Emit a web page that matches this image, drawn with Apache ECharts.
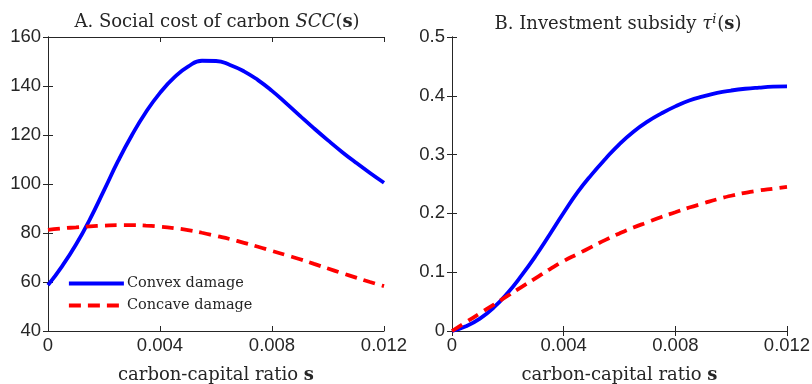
<!DOCTYPE html>
<html>
<head>
<meta charset="utf-8">
<script src="https://cdn.jsdelivr.net/npm/echarts@6/dist/echarts.min.js"></script>
<style>
  html, body { margin: 0; padding: 0; background: #fff; }
  #chart { width: 812px; height: 384px; }
</style>
</head>
<body>
<div id="chart"></div>
<script>
// carbon-capital ratio grid
const carbonRatio = [0, 0.0005, 0.001, 0.0015, 0.002, 0.0025, 0.003, 0.0035, 0.004, 0.0045,
  0.005, 0.0055, 0.006, 0.0065, 0.007, 0.0075, 0.008, 0.0085, 0.009, 0.0095,
  0.010, 0.0105, 0.011, 0.0115, 0.012];

// Panel A: social cost of carbon
const sccConvex = [58.7, 66.4, 75.3, 85.7, 97.4, 109.3, 120.0, 129.4, 137.2, 143.4,
  147.9, 150.3, 150.2, 148.6, 146.0, 142.4, 138.0, 133.0, 127.8, 122.7,
  117.8, 113.1, 108.7, 104.5, 100.5];
const sccConcave = [81.3, 81.9, 82.3, 82.7, 83, 83.2, 83.2, 83, 82.6, 82,
  81.2, 80.1, 78.8, 77.5, 76, 74.4, 72.7, 71, 69.3, 67.4,
  65.5, 63.6, 61.8, 60, 58.3];

// Panel B: investment subsidy
const subsidyConvex = [0, 0.008, 0.021, 0.04, 0.065, 0.095, 0.128, 0.164, 0.201, 0.236,
  0.266, 0.293, 0.318, 0.339, 0.356, 0.37, 0.382, 0.392, 0.399, 0.405,
  0.409, 0.412, 0.414, 0.4155, 0.416];
const subsidyConcave = [0, 0.015, 0.03, 0.045, 0.06, 0.075, 0.09, 0.105, 0.119, 0.131,
  0.143, 0.155, 0.166, 0.176, 0.185, 0.194, 0.202, 0.21, 0.217, 0.224,
  0.23, 0.235, 0.239, 0.242, 0.245];

// axis ticks
const xTicks = { min: 0, max: 0.012, interval: 0.004 };
const sccTicks = { min: 40, max: 160, interval: 20 };
const subsidyTicks = { min: 0, max: 0.5, interval: 0.1 };

const seriesNames = ['Convex damage', 'Concave damage'];

const pairs = (xs, ys) => xs.map((x, i) => [x, ys[i]]);

const ink = '#262626';
const serif = '"DejaVu Serif", "Liberation Serif", serif';
const sans = '"Liberation Sans", Arial, sans-serif';
const headSize = 18;
const legendSize = 14.5;

function mainX(grid) {
  return {
    type: 'value', gridIndex: grid, position: 'bottom',
    min: xTicks.min, max: xTicks.max, interval: xTicks.interval,
    axisLine: { show: true, lineStyle: { color: ink, width: 1 } },
    axisTick: { show: true, inside: true, length: 5, lineStyle: { color: ink } },
    axisLabel: { color: ink, fontFamily: sans, fontSize: 18.5, margin: 5 },
    splitLine: { show: false },
    name: '{n|carbon-capital ratio }{b|s}',
    nameLocation: 'middle', nameGap: 35,
    nameTextStyle: {
      rich: {
        n: { fontFamily: serif, fontSize: headSize, color: ink },
        b: { fontFamily: serif, fontSize: headSize, color: ink, fontWeight: 'bold' }
      }
    }
  };
}
function boxX(grid) {
  return {
    type: 'value', gridIndex: grid, position: 'top',
    min: xTicks.min, max: xTicks.max, interval: xTicks.interval,
    axisLine: { show: true, lineStyle: { color: ink, width: 1 } },
    axisTick: { show: true, inside: true, length: 5, lineStyle: { color: ink } },
    axisLabel: { show: false }, splitLine: { show: false }
  };
}
function mainY(grid, t) {
  return {
    type: 'value', gridIndex: grid, position: 'left',
    min: t.min, max: t.max, interval: t.interval,
    axisLine: { show: true, lineStyle: { color: ink, width: 1 } },
    axisTick: { show: true, inside: true, length: 5, lineStyle: { color: ink } },
    axisLabel: { color: ink, fontFamily: sans, fontSize: 18.5, margin: 7 },
    splitLine: { show: false }
  };
}
function boxY(grid, t) {
  return {
    type: 'value', gridIndex: grid, position: 'right',
    min: t.min, max: t.max, interval: t.interval,
    axisLine: { show: true, lineStyle: { color: ink, width: 1 } },
    axisTick: { show: true, inside: true, length: 5, lineStyle: { color: ink } },
    axisLabel: { show: false }, splitLine: { show: false }
  };
}

function curve(name, xAxisIndex, yAxisIndex, data, color, dashed) {
  return {
    name, type: 'line', xAxisIndex, yAxisIndex,
    data, showSymbol: false, symbol: 'none', smooth: 0.5,
    itemStyle: { color },
    lineStyle: { color, width: 3.8, type: dashed ? [12, 7] : 'solid', cap: 'butt' },
    animation: false
  };
}

const titleRich = {
  n: { fontFamily: serif, fontSize: headSize, color: ink, fontWeight: 'normal' },
  i: { fontFamily: serif, fontSize: headSize, color: ink, fontWeight: 'normal', fontStyle: 'italic' },
  b: { fontFamily: serif, fontSize: headSize, color: ink, fontWeight: 'bold' },
  sup: { fontFamily: serif, fontSize: 13, color: ink, fontWeight: 'normal', fontStyle: 'italic', padding: [0, 1, 10, 0] }
};

const chart = echarts.init(document.getElementById('chart'), null, { renderer: 'canvas' });
chart.setOption({
  backgroundColor: '#fff',
  animation: false,
  title: [
    { text: '{n|A. Social cost of carbon }{i|SCC}{n|(}{b|s}{n|)}', left: 212, top: 8,
      textAlign: 'center', textStyle: { fontWeight: 'normal', rich: titleRich } },
    { text: '{n|B. Investment subsidy }{i|τ}{sup|i}{n|(}{b|s}{n|)}', left: 613, top: 8,
      textAlign: 'center', textStyle: { fontWeight: 'normal', rich: titleRich } }
  ],
  grid: [
    { left: 48, right: 428, top: 37, bottom: 53, outerBoundsMode: 'none', containLabel: false },
    { left: 452, right: 25, top: 37, bottom: 53, outerBoundsMode: 'none', containLabel: false }
  ],
  legend: {
    data: seriesNames, left: 67, top: 276, orient: 'vertical',
    itemWidth: 55, itemHeight: 14, itemGap: 7, padding: 0,
    itemStyle: { opacity: 0 },
    lineStyle: { width: 3.8 },
    textStyle: { fontFamily: serif, fontSize: legendSize, color: ink, lineHeight: 14, padding: [0, 0, 0, -2] }
  },
  xAxis: [mainX(0), boxX(0), mainX(1), boxX(1)],
  yAxis: [mainY(0, sccTicks), boxY(0, sccTicks), mainY(1, subsidyTicks), boxY(1, subsidyTicks)],
  series: [
    curve(seriesNames[0], 0, 0, pairs(carbonRatio, sccConvex), '#0000ff', false),
    curve(seriesNames[1], 0, 0, pairs(carbonRatio, sccConcave), '#ff0000', true),
    curve(seriesNames[0], 2, 2, pairs(carbonRatio, subsidyConvex), '#0000ff', false),
    curve(seriesNames[1], 2, 2, pairs(carbonRatio, subsidyConcave), '#ff0000', true)
  ]
});
</script>
</body>
</html>
